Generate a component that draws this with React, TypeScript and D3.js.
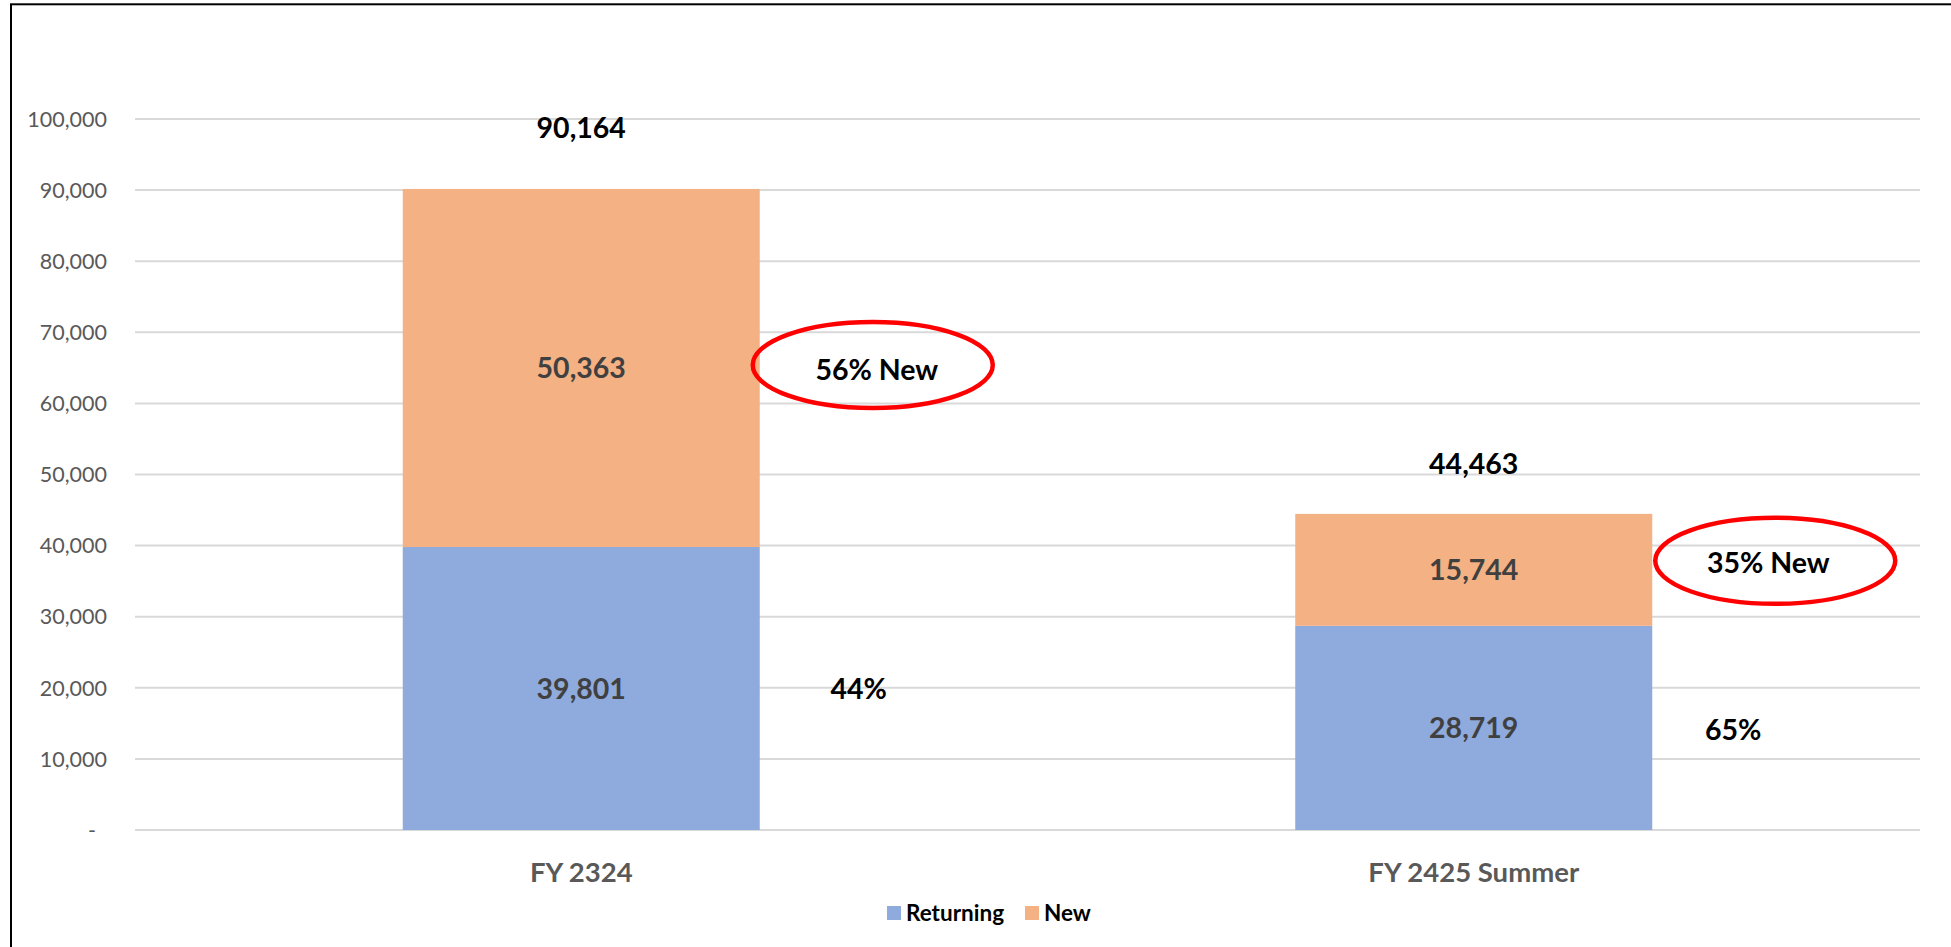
import React from "react";
import * as d3 from "d3";

const categories = ["FY 2324", "FY 2425 Summer"];
const returningValues = [39801, 28719];
const newValues = [50363, 15744];
const totalValues = [90164, 44463];
const returningPctLabels = ["44%", "65%"];
const newPctLabels = ["56% New", "35% New"];
const yTickValues = [0, 10000, 20000, 30000, 40000, 50000, 60000, 70000, 80000, 90000, 100000];
const seriesNames = ["Returning", "New"];
const seriesColors = ["#8FAADC", "#F4B183"];

// layout
const W = 1951;
const H = 947;
const plot = { left: 135, right: 1920, top: 119, bottom: 830 };
const totalLabelDy = [-61, -50];
const annot = [
  { retDx: 99, retDy: 0, newDx: 117, newDy: 2, ellDx: 113, ellDy: -3 },
  { retDx: 81, retDy: 2, newDx: 116, newDy: -7, ellDx: 123, ellDy: -9 },
];
const FONT = "Lato, 'Open Sans', sans-serif";

export default function App() {
  const x = d3
    .scaleBand<string>()
    .domain(categories)
    .range([plot.left, plot.right])
    .paddingInner(0.6)
    .paddingOuter(0.3);
  const y = d3.scaleLinear().domain([0, 100000]).range([plot.bottom, plot.top]);
  const fmt = d3.format(",");

  const stackData = categories.map((c, i) => ({ cat: c, Returning: returningValues[i], New: newValues[i] }));
  const stacked = d3.stack<any>().keys(seriesNames)(stackData);

  return (
    <svg
      width={W}
      height={H}
      style={{ position: "absolute", left: 0, top: 0, display: "block", background: "#fff" }}
      fontFamily={FONT}
    >
      <rect x={0} y={0} width={W} height={H} fill="#fff" />
      <rect x={11} y={4.3} width={W + 20} height={H + 20} fill="none" stroke="#000" strokeWidth={2} />
      {/* gridlines */}
      {yTickValues.map((t) => (
        <line key={t} x1={plot.left} x2={plot.right} y1={y(t)} y2={y(t)} stroke="#D9D9D9" strokeWidth={2} />
      ))}
      {/* y tick labels */}
      {yTickValues.map((t) => (
        <text
          key={"l" + t}
          x={t === 0 ? 96 : 107}
          y={y(t)}
          dy="0.36em"
          textAnchor="end"
          fontSize={21.5}
          fill="#595959"
        >
          {t === 0 ? "-" : fmt(t)}
        </text>
      ))}
      {/* bars */}
      {stacked.map((s, si) => (
        <g key={s.key} fill={seriesColors[si]}>
          {s.map((d, i) => (
            <rect
              key={i}
              x={x(categories[i])}
              width={x.bandwidth()}
              y={y(d[1])}
              height={y(d[0]) - y(d[1])}
            />
          ))}
        </g>
      ))}
      {/* segment labels */}
      {stacked.map((s) =>
        s.map((d, i) => (
          <text
            key={s.key + i}
            x={(x(categories[i]) as number) + x.bandwidth() / 2}
            y={y((d[0] + d[1]) / 2)}
            dy="0.36em"
            textAnchor="middle"
            fontWeight="bold"
            fontSize={28.5}
            fill="#404040"
          >
            {fmt(d[1] - d[0])}
          </text>
        ))
      )}
      {/* totals */}
      {totalValues.map((v, i) => (
        <text
          key={"t" + i}
          x={(x(categories[i]) as number) + x.bandwidth() / 2}
          y={y(v) + totalLabelDy[i]}
          dy="0.36em"
          textAnchor="middle"
          fontWeight="bold"
          fontSize={28.5}
          fill="#000"
        >
          {fmt(v)}
        </text>
      ))}
      {/* annotations */}
      {categories.map((c, i) => {
        const right = (x(c) as number) + x.bandwidth();
        const retMid = y(returningValues[i] / 2);
        const newMid = y(returningValues[i] + newValues[i] / 2);
        const a = annot[i];
        return (
          <g key={"a" + i}>
            <text
              x={right + a.retDx}
              y={retMid + a.retDy}
              dy="0.36em"
              textAnchor="middle"
              fontWeight="bold"
              fontSize={28.5}
              fill="#000"
            >
              {returningPctLabels[i]}
            </text>
            <ellipse
              cx={right + a.ellDx}
              cy={newMid + a.ellDy}
              rx={120}
              ry={43}
              fill="none"
              stroke="#FF0000"
              strokeWidth={4.5}
            />
            <text
              x={right + a.newDx}
              y={newMid + a.newDy}
              dy="0.36em"
              textAnchor="middle"
              fontWeight="bold"
              fontSize={28.5}
              fill="#000"
            >
              {newPctLabels[i]}
            </text>
          </g>
        );
      })}
      {/* category labels */}
      {categories.map((c) => (
        <text
          key={"c" + c}
          x={(x(c) as number) + x.bandwidth() / 2}
          y={872}
          dy="0.36em"
          textAnchor="middle"
          fontWeight="bold"
          fontSize={27.5}
          fill="#595959"
        >
          {c}
        </text>
      ))}
      {/* legend */}
      {seriesNames.map((n, i) => {
        const lx = [887, 1025][i];
        return (
          <g key={"lg" + n}>
            <rect x={lx} y={906} width={14} height={14} fill={seriesColors[i]} />
            <text x={lx + 19} y={913} dy="0.36em" fontWeight="bold" fontSize={22.5} fill="#000">
              {n}
            </text>
          </g>
        );
      })}
    </svg>
  );
}
